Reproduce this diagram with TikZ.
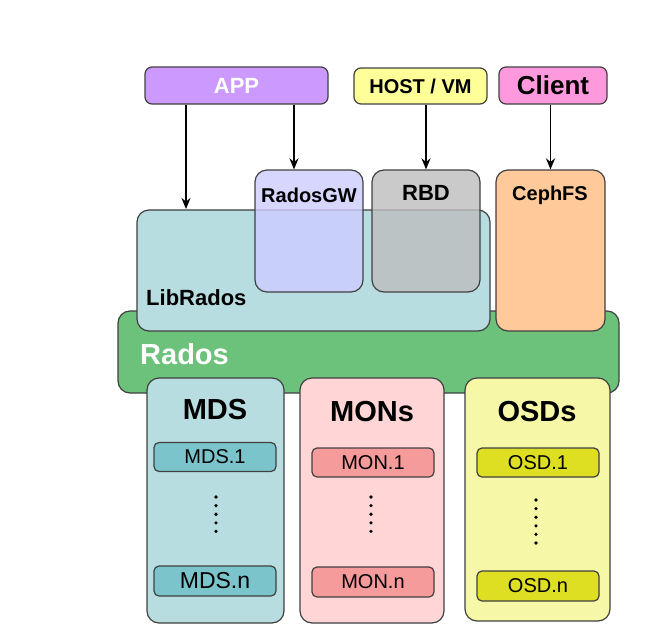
\documentclass[tikz,border=0pt]{standalone}
\usepackage{fontspec}
\setmainfont{Liberation Sans}
\usetikzlibrary{arrows.meta, positioning}
\definecolor{appfill}{HTML}{CC99FF}
\definecolor{hostfill}{HTML}{FFFF99}
\definecolor{clientfill}{HTML}{FF99DD}
\definecolor{gwfill}{HTML}{CCCCFF}
\definecolor{rbdfill}{HTML}{BDBDBD}
\definecolor{cephfill}{HTML}{FFC999}
\definecolor{libfill}{HTML}{B8DDE1}
\definecolor{radosfill}{HTML}{6CC27A}
\definecolor{monsfill}{HTML}{FFD5D5}
\definecolor{osdsfill}{HTML}{F7F7A8}
\definecolor{mdsitem}{HTML}{7CC4CB}
\definecolor{monitem}{HTML}{F59B9B}
\definecolor{osditem}{HTML}{DEDE22}
\tikzset{
  box/.style={draw=black!75, line width=1.2pt, rounded corners=12pt, inner sep=0pt},
  topbox/.style={box, rounded corners=7pt, minimum height=37pt, font=\bfseries\fontsize{20}{24}\selectfont},
  item/.style={box, rounded corners=5pt, minimum width=122pt, minimum height=29pt, font=\fontsize{20}{22}\selectfont},
  head/.style={font=\bfseries\fontsize{29}{32}\selectfont},
  sub/.style={font=\bfseries\fontsize{20}{24}\selectfont},
  arr/.style={-{Stealth[length=11pt,width=9pt]}, line width=1.9pt},
  dots/.style={line width=3.6pt, line cap=round, dash pattern=on 0pt off 8.6pt}
}
\begin{document}
\begin{tikzpicture}[x=1pt,y=-1pt]
\useasboundingbox (0,0) rectangle (658,643);
% rados layer
\node[box, fill=radosfill, minimum width=501pt, minimum height=82pt] (rados) at (368.5,352) {};
\node[box, fill=libfill, minimum width=353pt, minimum height=121pt] (lib) at (313.5,270.5) {};
\node[box, fill=cephfill, minimum width=109pt, minimum height=161pt] (ceph) at (550.5,250.5) {};
\node[box, fill=gwfill, fill opacity=.8, minimum width=108pt, minimum height=122pt] (gw) at (309,231) {};
\node[box, fill=rbdfill, fill opacity=.8, minimum width=108pt, minimum height=122pt] (rbd) at (426,231) {};
% daemons
\node[box, fill=libfill, minimum width=137pt, minimum height=245pt] (mds) at (215.5,500.5) {};
\node[box, fill=monsfill, minimum width=144pt, minimum height=245pt] (mons) at (372,500.5) {};
\node[box, fill=osdsfill, minimum width=145pt, minimum height=243pt] (osds) at (537.5,499.5) {};
\node[item, fill=mdsitem] (mds1) at (215,457) {MDS.1};
\node[item, fill=mdsitem, minimum height=30pt, font=\fontsize{23}{25}\selectfont] (mdsn) at (215,581) {MDS.n};
\node[item, fill=monitem] (mon1) at (373,462.5) {MON.1};
\node[item, fill=monitem, minimum height=30pt] (monn) at (373,582) {MON.n};
\node[item, fill=osditem] (osd1) at (538,462.5) {OSD.1};
\node[item, fill=osditem, minimum height=30pt] (osdn) at (538,586) {OSD.n};
\draw[dots] (216,497) -- (216,540);
\draw[dots] (371,497) -- (371,540);
\draw[dots] (536,500) -- (536,543);
% labels
\node[sub] (gwtxt) at (309,195) {RadosGW};
\node[sub, font=\bfseries\fontsize{22}{24}\selectfont] (rbdtxt) at (426,193) {RBD};
\node[sub] (cephtxt) at (550,195) {CephFS};
\node[sub, font=\bfseries\fontsize{22}{24}\selectfont, anchor=west, inner sep=0pt] (libtxt) at (146,298) {LibRados};
\node[head, text=white, anchor=west, inner sep=0pt] (radostxt) at (140,354) {Rados};
\node[head] (mdstxt) at (215,410) {MDS};
\node[head] (monstxt) at (372,412) {MONs};
\node[head] (osdstxt) at (537,412) {OSDs};
% clients
\node[topbox, fill=appfill, text=white, minimum width=183pt, font=\bfseries\fontsize{22}{24}\selectfont] (app) at (236.5,85.5) {APP};
\node[topbox, fill=hostfill, minimum width=133pt, minimum height=36pt] (host) at (420.5,86) {HOST / VM};
\node[topbox, fill=clientfill, minimum width=108pt, font=\bfseries\fontsize{26}{28}\selectfont] (client) at (553,85.5) {Client};
\coordinate (libin) at (186,209);
\coordinate (gwin) at ([xshift=-15pt]gw.north);
\draw[arr] (app.south -| libin) -- (libin);
\draw[arr] (app.south -| gwin) -- (gwin);
\draw[arr] (host.south -| rbd.north) -- (rbd.north);
\draw[arr] (client.south -| ceph.north) -- (ceph.north);
\end{tikzpicture}
\end{document}
